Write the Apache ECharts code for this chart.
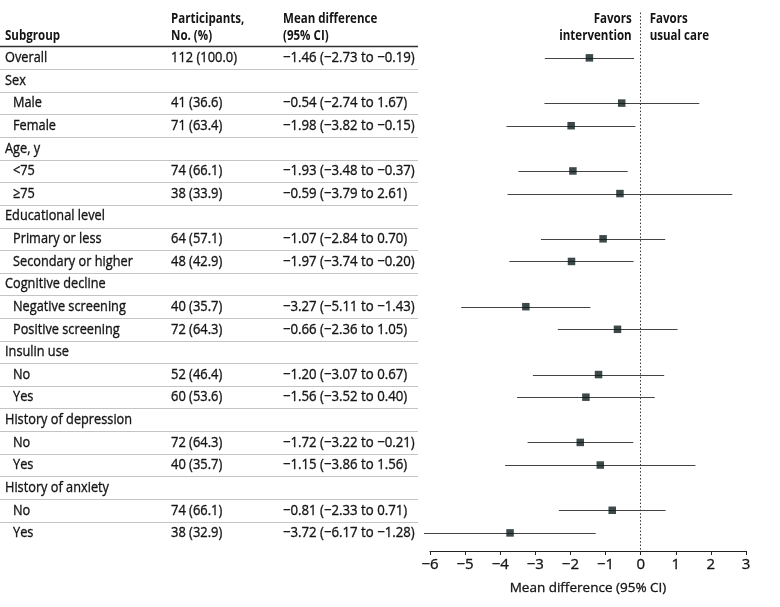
<!DOCTYPE html>
<html>
<head>
<meta charset="utf-8">
<script src="https://cdn.jsdelivr.net/npm/echarts@6/dist/echarts.min.js"></script>
<style>
html,body{margin:0;padding:0;background:#fff;}
#chart{width:780px;height:607px;}
</style>
</head>
<body>
<div id="chart"></div>
<script>
// ---- data ----
const subgroups = ['Overall','Sex','Male','Female','Age, y','<75','\u226575','Educational level','Primary or less','Secondary or higher','Cognitive decline','Negative screening','Positive screening','Insulin use','No','Yes','History of depression','No','Yes','History of anxiety','No','Yes'];
const indentLevel = [0,0,1,1,0,1,1,0,1,1,0,1,1,0,1,1,0,1,1,0,1,1];
const participants = ['112 (100.0)',null,'41 (36.6)','71 (63.4)',null,'74 (66.1)','38 (33.9)',null,'64 (57.1)','48 (42.9)',null,'40 (35.7)','72 (64.3)',null,'52 (46.4)','60 (53.6)',null,'72 (64.3)','40 (35.7)',null,'74 (66.1)','38 (32.9)'];
const means = [-1.46,null,-0.54,-1.98,null,-1.93,-0.59,null,-1.07,-1.97,null,-3.27,-0.66,null,-1.20,-1.56,null,-1.72,-1.15,null,-0.81,-3.72];
const lows  = [-2.73,null,-2.74,-3.82,null,-3.48,-3.79,null,-2.84,-3.74,null,-5.11,-2.36,null,-3.07,-3.52,null,-3.22,-3.86,null,-2.33,-6.17];
const highs = [-0.19,null,1.67,-0.15,null,-0.37,2.61,null,0.70,-0.20,null,-1.43,1.05,null,0.67,0.40,null,-0.21,1.56,null,0.71,-1.28];
const headerCols = [['Subgroup'],['Participants,','No. (%)'],['Mean difference','(95% CI)']];
const favorsLeft = ['Favors','intervention'];
const favorsRight = ['Favors','usual care'];
const axisTitle = 'Mean difference (95% CI)';

// ---- helpers ----
const FONT = '"Open Sans","Noto Sans",sans-serif';
const TXT = '#141414';
const fmt = v => (v < 0 ? '\u2212' : '') + Math.abs(v).toFixed(2);
const ciText = i => fmt(means[i]) + ' (' + fmt(lows[i]) + ' to ' + fmt(highs[i]) + ')';

// layout constants
const COL_SUB = 5, COL_IND = 13, COL_PART = 171, COL_MEAN = 283, TABLE_END = 418;
const HEAD_Y1 = -1.72, HEAD_Y2 = -0.97;
const SC_LABEL = 0.85, SC_NUM = 0.86, SC_MEAN = 0.88, SC_BOLD = 0.77;

const texts = [];
subgroups.forEach((s, i) => {
  texts.push({x: indentLevel[i] ? COL_IND : COL_SUB, y: i, t: s, bold: false, sc: SC_LABEL});
  if (participants[i]) texts.push({x: COL_PART, y: i, t: participants[i], bold: false, sc: SC_NUM});
  if (means[i] != null) texts.push({x: COL_MEAN, y: i, t: ciText(i), bold: false, sc: SC_MEAN});
});
texts.push({x: COL_SUB, y: HEAD_Y2, t: headerCols[0][0], bold: true, sc: SC_BOLD});
texts.push({x: COL_PART, y: HEAD_Y1, t: headerCols[1][0], bold: true, sc: SC_BOLD});
texts.push({x: COL_PART, y: HEAD_Y2, t: headerCols[1][1], bold: true, sc: SC_BOLD});
texts.push({x: COL_MEAN, y: HEAD_Y1, t: headerCols[2][0], bold: true, sc: SC_BOLD});
texts.push({x: COL_MEAN, y: HEAD_Y2, t: headerCols[2][1], bold: true, sc: SC_BOLD});

const sepRows = [];
for (let i = 0; i < subgroups.length - 1; i++) sepRows.push(i + 0.5);

const plotRows = [];
means.forEach((m, i) => { if (m != null) plotRows.push([m, i, lows[i], highs[i]]); });

const favorTexts = [
  {y: HEAD_Y1, t: favorsLeft[0], align: 'right', dx: -9},
  {y: HEAD_Y2, t: favorsLeft[1], align: 'right', dx: -9},
  {y: HEAD_Y1, t: favorsRight[0], align: 'left', dx: 9},
  {y: HEAD_Y2, t: favorsRight[1], align: 'left', dx: 9}
];

const chart = echarts.init(document.getElementById('chart'), null, {renderer: 'canvas'});
const yAxisCfg = {type: 'value', inverse: true, min: -2, max: 21.8, show: false};

chart.setOption({
  animation: false,
  backgroundColor: '#fff',
  grid: [
    {left: 430, right: 34, top: 12.6, bottom: 56, containLabel: false},
    {left: 0, width: TABLE_END, top: 12.6, bottom: 56, containLabel: false}
  ],
  xAxis: [
    {
      type: 'value', gridIndex: 0, min: -6, max: 3, interval: 1,
      axisLine: {show: true, onZero: false, lineStyle: {color: '#222', width: 1}},
      axisTick: {show: true, length: 4, lineStyle: {color: '#222'}},
      splitLine: {show: false},
      axisLabel: {fontFamily: FONT, fontSize: 15, color: TXT, margin: 6,
        textBorderColor: TXT, textBorderWidth: 0.3,
        formatter: v => (v < 0 ? '\u2212' : '') + Math.abs(v)},
      name: axisTitle, nameLocation: 'middle', nameGap: 30,
      nameTextStyle: {fontFamily: FONT, fontSize: 13.5, color: TXT,
        textBorderColor: TXT, textBorderWidth: 0.3}
    },
    {type: 'value', gridIndex: 1, min: 0, max: TABLE_END, show: false}
  ],
  yAxis: [
    Object.assign({gridIndex: 0}, yAxisCfg),
    Object.assign({gridIndex: 1}, yAxisCfg)
  ],
  series: [
    {
      type: 'custom', xAxisIndex: 1, yAxisIndex: 1,
      data: sepRows.map(y => [0, y]),
      renderItem: (params, api) => {
        const y = api.value(1);
        const a = api.coord([0, y]), b = api.coord([TABLE_END, y]);
        const yy = Math.round(a[1]) + 0.5;
        return {type: 'line', shape: {x1: a[0], y1: yy, x2: b[0], y2: yy},
          style: {stroke: '#c4c4c4', lineWidth: 1}};
      },
      silent: true
    },
    {
      type: 'custom', xAxisIndex: 1, yAxisIndex: 1,
      data: [[0, -0.5]],
      renderItem: (params, api) => {
        const y = api.value(1);
        const a = api.coord([0, y]), b = api.coord([TABLE_END, y]);
        return {type: 'line', shape: {x1: a[0], y1: a[1], x2: b[0], y2: b[1]},
          style: {stroke: '#333', lineWidth: 1.6}};
      },
      silent: true
    },
    {
      type: 'custom', xAxisIndex: 1, yAxisIndex: 1,
      data: texts.map((d, k) => [d.x, d.y, k]),
      renderItem: (params, api) => {
        const d = texts[api.value(2)];
        const p = api.coord([d.x, d.y]);
        return {type: 'text', x: p[0], y: p[1], scaleX: d.sc,
          style: {text: d.t, textAlign: 'left', textVerticalAlign: 'middle',
            font: (d.bold ? 'bold ' : '') + '15px ' + FONT, fill: TXT,
            stroke: d.bold ? null : TXT, lineWidth: d.bold ? 0 : 0.35}};
      },
      silent: true
    },
    {
      type: 'custom', xAxisIndex: 0, yAxisIndex: 0,
      data: favorTexts.map((d, k) => [0, d.y, k]),
      renderItem: (params, api) => {
        const d = favorTexts[api.value(2)];
        const p = api.coord([0, d.y]);
        return {type: 'text', x: p[0] + d.dx, y: p[1], scaleX: SC_BOLD,
          style: {text: d.t, textAlign: d.align, textVerticalAlign: 'middle',
            font: 'bold 15px ' + FONT, fill: TXT}};
      },
      silent: true
    },
    {
      type: 'custom', xAxisIndex: 0, yAxisIndex: 0,
      data: plotRows,
      renderItem: (params, api) => {
        const y = api.value(1);
        const a = api.coord([api.value(2), y]), b = api.coord([api.value(3), y]);
        const yy = Math.round(a[1]) + 0.5;
        return {type: 'line', shape: {x1: a[0], y1: yy, x2: b[0], y2: yy},
          style: {stroke: '#444', lineWidth: 1}};
      },
      silent: true,
      markLine: {
        silent: true, symbol: 'none', label: {show: false},
        lineStyle: {type: [1.5, 2], color: '#333', width: 1},
        data: [{xAxis: 0}]
      }
    },
    {
      type: 'scatter', xAxisIndex: 0, yAxisIndex: 0,
      data: plotRows.map(r => [r[0], r[1]]),
      symbol: 'rect', symbolSize: 7.5,
      itemStyle: {color: '#0c1a1a'},
      silent: true
    }
  ]
});
</script>
</body>
</html>
